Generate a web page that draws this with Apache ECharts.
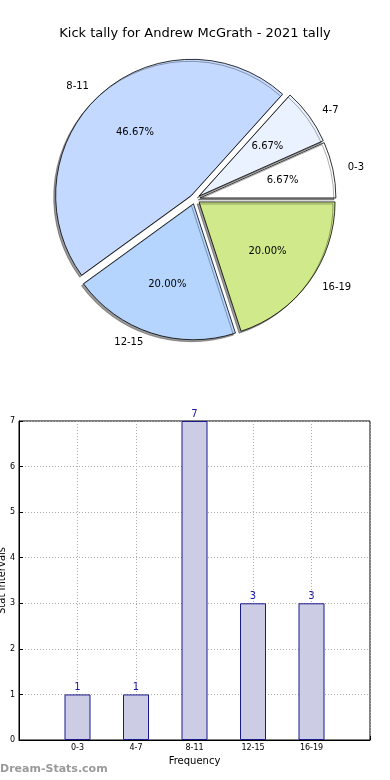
<!DOCTYPE html>
<html><head><meta charset="utf-8">
<script src="https://cdn.jsdelivr.net/npm/echarts@6/dist/echarts.min.js"></script>
<style>html,body{margin:0;padding:0;background:#fff}#c{width:390px;height:780px}</style>
</head><body><div id="c"></div>
<script>
const titleText = 'Kick tally for Andrew McGrath - 2021 tally';
const categories = ['0-3', '4-7', '8-11', '12-15', '16-19'];
const counts = [1, 1, 7, 3, 3];
const yTicks = [0, 1, 2, 3, 4, 5, 6, 7];
const pieColors = ['#ffffff', '#eaf1ff', '#c4d9ff', '#b5d5ff', '#cfe98b'];
const FONT = 'DejaVu Sans';

const chart = echarts.init(document.getElementById('c'), null, {renderer: 'canvas'});
const pieCenter = [195, 199];
const R = 136;
const total = counts.reduce((a, b) => a + b, 0);

const pieData = categories.map((c, i) => ({
  name: c, value: counts[i], selected: true,
  itemStyle: {color: pieColors[i]}
}));
const pieDataT = categories.map((c, i) => ({name: c, value: counts[i], selected: true}));

chart.setOption({
  animation: false,
  title: {text: titleText, left: 'center', top: 22,
    textStyle: {fontFamily: FONT, fontSize: 13, fontWeight: 'normal', color: '#000'}},
  graphic: [
    {type: 'text', left: 0, top: 764,
      style: {text: 'Dream-Stats.com', fill: '#9a9a9a', font: 'bold 11px "DejaVu Sans"'}}
  ],
  grid: {left: 19, right: 20, top: 421, bottom: 40, show: true, borderColor: '#000', borderWidth: 1,
    backgroundColor: 'transparent', containLabel: false, outerBoundsMode: 'none'},
  xAxis: {
    type: 'value', min: -1, max: 5, interval: 1,
    name: 'Frequency', nameLocation: 'middle', nameGap: 16, nameMoveOverlap: false,
    nameTextStyle: {fontFamily: FONT, fontSize: 10, color: '#000'},
    axisLine: {show: true, onZero: false, lineStyle: {color: '#000'}},
    axisTick: {show: true, inside: true, length: 4, lineStyle: {color: '#000'}},
    axisLabel: {fontFamily: FONT, fontSize: 8, color: '#000', margin: 4,
      formatter: v => categories[v] || ''},
    splitLine: {show: true, lineStyle: {color: '#aaa', type: [1, 2], width: 1}}
  },
  yAxis: {
    type: 'value', min: yTicks[0], max: yTicks[yTicks.length - 1], interval: 1,
    name: 'Stat Intervals', nameLocation: 'middle', nameGap: 12, nameRotate: 90, nameMoveOverlap: false,
    nameTextStyle: {fontFamily: FONT, fontSize: 10, color: '#000'},
    axisLine: {show: true, onZero: false, lineStyle: {color: '#000'}},
    axisTick: {show: true, inside: true, length: 4, lineStyle: {color: '#000'}},
    axisLabel: {fontFamily: FONT, fontSize: 8, color: '#000', margin: 4},
    splitLine: {show: true, lineStyle: {color: '#aaa', type: [1, 2], width: 1}}
  },
  series: [
    {
      type: 'pie', center: pieCenter, radius: R,
      startAngle: 0, clockwise: false, selectedMode: 'multiple', selectedOffset: 5,
      avoidLabelOverlap: false, silent: true,
      itemStyle: {borderColor: '#000', borderWidth: 0.8,
        shadowColor: 'rgba(0,0,0,0.4)', shadowBlur: 0, shadowOffsetX: -2, shadowOffsetY: 2},
      label: {show: true, position: 'outside', fontFamily: FONT, fontSize: 10, color: '#000', formatter: '{b}'},
      labelLine: {show: false, length: 10, length2: 0},
      data: pieData
    },
    {
      type: 'pie', center: pieCenter, radius: [R * 0.2, R],
      startAngle: 0, clockwise: false, selectedMode: 'multiple', selectedOffset: 5,
      avoidLabelOverlap: false, silent: true,
      itemStyle: {color: 'transparent', borderWidth: 0},
      label: {show: true, position: 'inside', fontFamily: FONT, fontSize: 10, color: '#000',
        formatter: p => (p.value / total * 100).toFixed(2) + '%'},
      labelLine: {show: false},
      data: pieDataT
    },
    {
      type: 'bar', barWidth: 26,
      data: counts.map((v, i) => [i, v]),
      itemStyle: {color: '#ccccE4', borderColor: '#1a1a8c', borderWidth: 1},
      label: {show: true, position: 'top', distance: 2, fontFamily: FONT, fontSize: 10, color: '#1a1aa6'}
    }
  ]
});
</script></body></html>
